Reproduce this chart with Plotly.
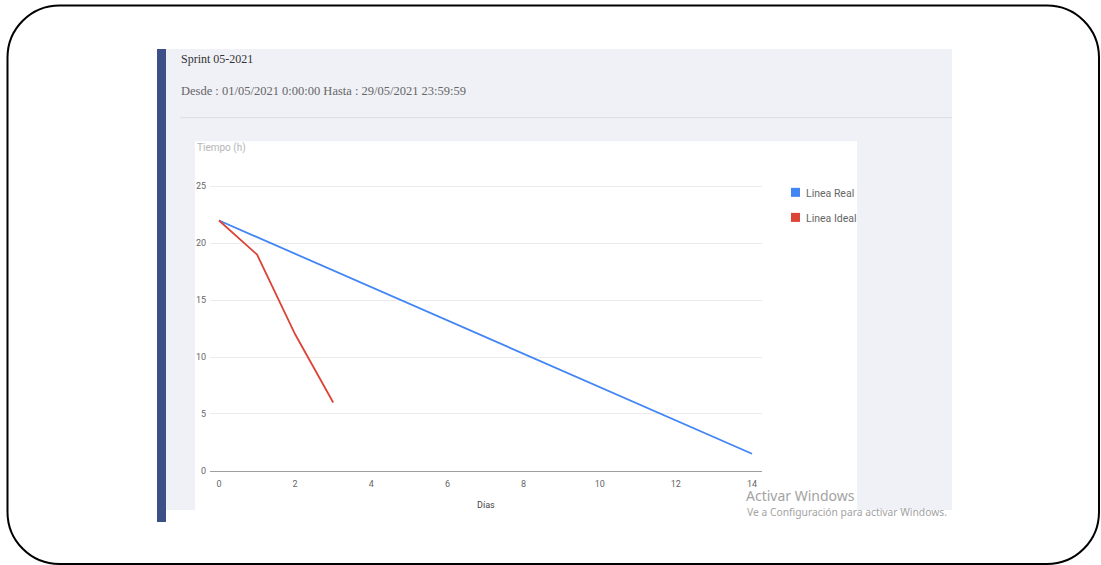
import plotly.graph_objects as go

# ---- data ----
dias_real = [0, 14]
horas_real = [22, 1.5]
dias_ideal = [0, 1, 2, 3]
horas_ideal = [22, 19, 12, 6]
x_ticks = [0, 2, 4, 6, 8, 10, 12, 14]
y_ticks = [0, 5, 10, 15, 20, 25]
serie_names = ["Linea Real", "Linea Ideal"]
serie_colors = ["#4285f4", "#db4437"]

W, H = 1101, 565
H_FIG = 571


def fx(p):
    return p / W


def fy(p):
    return 1 - p / H


fig = go.Figure()
fig.add_trace(go.Scatter(x=dias_real, y=horas_real, mode="lines", name=serie_names[0],
                         line=dict(color=serie_colors[0], width=1.8), showlegend=False))
fig.add_trace(go.Scatter(x=dias_ideal, y=horas_ideal, mode="lines", name=serie_names[1],
                         line=dict(color=serie_colors[1], width=1.8), showlegend=False))

shapes = []
# light panel
shapes.append(dict(type="rect", xref="paper", yref="paper", x0=fx(166), x1=fx(952), y0=fy(509), y1=fy(49),
                   fillcolor="#f0f1f7", line=dict(width=0), layer="below"))
# dark side bar
shapes.append(dict(type="rect", xref="paper", yref="paper", x0=fx(157), x1=fx(166), y0=fy(521), y1=fy(49),
                   fillcolor="#3c4f86", line=dict(width=0), layer="below"))
# separator line
shapes.append(dict(type="line", xref="paper", yref="paper", x0=fx(180), x1=fx(952), y0=fy(117.5), y1=fy(117.5),
                   line=dict(color="#dcdde4", width=1), layer="below"))
# white chart card
shapes.append(dict(type="rect", xref="paper", yref="paper", x0=fx(195), x1=fx(857), y0=fy(509), y1=fy(141),
                   fillcolor="white", line=dict(width=0), layer="below"))

# rounded outer border
x0, y0, x1, y1, r = 7.5, 5.5, 1099, 563, 52
k = r * 0.5523
pts = [
    ("M", [(x0 + r, y0)]),
    ("L", [(x1 - r, y0)]),
    ("C", [(x1 - r + k, y0), (x1, y0 + r - k), (x1, y0 + r)]),
    ("L", [(x1, y1 - r)]),
    ("C", [(x1, y1 - r + k), (x1 - r + k, y1), (x1 - r, y1)]),
    ("L", [(x0 + r, y1)]),
    ("C", [(x0 + r - k, y1), (x0, y1 - r + k), (x0, y1 - r)]),
    ("L", [(x0, y0 + r)]),
    ("C", [(x0, y0 + r - k), (x0 + r - k, y0), (x0 + r, y0)]),
]
path = ""
for cmd, ps in pts:
    path += cmd + " " + " ".join(f"{fx(a):.5f},{fy(b):.5f}" for a, b in ps) + " "
path += "Z"
shapes.append(dict(type="path", xref="paper", yref="paper", path=path,
                   line=dict(color="black", width=2), fillcolor="rgba(0,0,0,0)", layer="above"))

# legend squares
for i, c in enumerate(serie_colors):
    yc = 192 + 25 * i
    shapes.append(dict(type="rect", xref="paper", yref="paper", x0=fx(791), x1=fx(800), y0=fy(yc + 4.5),
                       y1=fy(yc - 4.5), fillcolor=c, line=dict(width=0), layer="above"))

annotations = []


def txt(text, x, y, size, color, family, xanchor="left", yanchor="middle"):
    annotations.append(dict(text=text, x=fx(x), y=fy(y), xref="paper", yref="paper", showarrow=False,
                            xanchor=xanchor, yanchor=yanchor, font=dict(size=size, color=color, family=family)))


serif = "Liberation Serif, DejaVu Serif, serif"
sans = "Roboto, Arial, sans-serif"
txt("Sprint 05-2021", 179, 59, 12, "#333333", serif)
txt("Desde : 01/05/2021 0:00:00 Hasta : 29/05/2021 23:59:59", 179, 91, 12.5, "#666666", serif)
txt("Tiempo (h)", 195, 147.5, 10, "#b5b5b5", sans)
txt("Días", 486, 504, 9, "#444444", sans, xanchor="center")
for i, n in enumerate(serie_names):
    txt(n, 804, 193 + 25 * i, 10.5, "#666666", sans)
txt("Activar Windows", 744, 494.5, 14, "#a3a3a3", "Noto Sans, Open Sans, sans-serif")
txt("Ve a Configuración para activar Windows.", 745, 511.5, 10.3, "#a3a3a3", "Noto Sans, Open Sans, sans-serif")

# axis geometry (pixels): x 0 -> 219, 14 -> 752 ; y 0 -> 470, 25 -> 186
xpx = (752 - 219) / 14.0
ypx = (470 - 186) / 25.0
xl, xr = 210, 762
x_range = [(xl - 219) / xpx, (xr - 219) / xpx]
y_top_val = 26
y_top_px = 470 - y_top_val * ypx

fig.update_layout(
    width=W, height=H_FIG,
    margin=dict(l=0, r=0, t=0, b=0),
    paper_bgcolor="white",
    plot_bgcolor="white",
    shapes=shapes,
    annotations=annotations,
    showlegend=False,
    xaxis=dict(domain=[fx(xl), fx(xr)], range=x_range, tickvals=x_ticks, ticktext=[str(v) for v in x_ticks],
               showgrid=False, zeroline=False, showline=True, linecolor="#9e9e9e", linewidth=1,
               ticks="", tickfont=dict(size=9, color="#666666", family=sans), ticklabelstandoff=4),
    yaxis=dict(domain=[fy(470), fy(y_top_px)], range=[0, y_top_val], tickvals=y_ticks,
               ticktext=[str(v) for v in y_ticks], showgrid=True, gridcolor="#ebebeb", gridwidth=1,
               zeroline=False, showline=False, ticks="", tickfont=dict(size=9, color="#666666", family=sans),
               ticklabelstandoff=3),
)

fig.write_html("out.html", config={"displayModeBar": False},
               post_script="document.body.style.margin='0';document.body.style.overflow='hidden';")
